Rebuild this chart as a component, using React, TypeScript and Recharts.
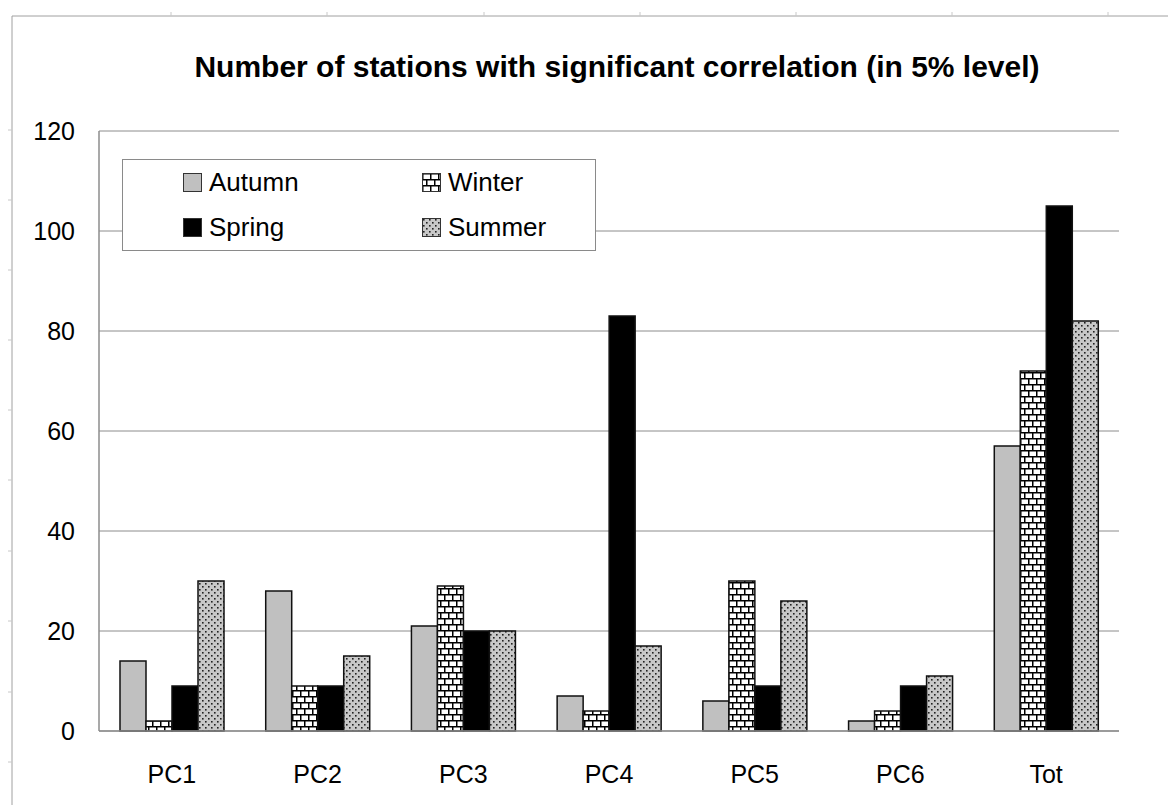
import React from "react";
import {
  BarChart,
  Bar,
  XAxis,
  YAxis,
  CartesianGrid,
  Legend,
} from "recharts";

const categories = ["PC1", "PC2", "PC3", "PC4", "PC5", "PC6", "Tot"];
const autumn = [14, 28, 21, 7, 6, 2, 57];
const winter = [2, 9, 29, 4, 30, 4, 72];
const spring = [9, 9, 20, 83, 9, 9, 105];
const summer = [30, 15, 20, 17, 26, 11, 82];
const yTicks = [0, 20, 40, 60, 80, 100, 120];

const chartData = categories.map((name, i) => ({
  name,
  autumn: autumn[i],
  winter: winter[i],
  spring: spring[i],
  summer: summer[i],
}));

const FONT = '"Liberation Sans", Arial, sans-serif';

const series = [
  { key: "autumn", label: "Autumn", fill: "#c0c0c0" },
  { key: "winter", label: "Winter", fill: "url(#brick)" },
  { key: "spring", label: "Spring", fill: "#000000" },
  { key: "summer", label: "Summer", fill: "url(#dots)" },
];

// legend order in the box: row 1 Autumn / Winter, row 2 Spring / Summer
function LegendBox() {
  const item = (s: (typeof series)[number]) => (
    <div key={s.key} style={{ display: "flex", alignItems: "center", height: 45 }}>
      <svg width={19} height={19} style={{ marginRight: 7 }}>
        <rect x={0.5} y={0.5} width={18} height={18} fill={s.fill} stroke="#333" strokeWidth={1} />
      </svg>
      <span style={{ fontFamily: FONT, fontSize: 26, color: "#000" }}>{s.label}</span>
    </div>
  );
  return (
    <div
      style={{
        width: 474,
        height: 92,
        border: "1px solid #8a8a8a",
        background: "#fff",
        display: "grid",
        gridTemplateColumns: "239px 235px",
        paddingLeft: 60,
        boxSizing: "border-box",
        alignContent: "center",
      }}
    >
      {item(series[0])}
      {item(series[1])}
      {item(series[2])}
      {item(series[3])}
    </div>
  );
}

const topTicks = [171, 327, 484, 640, 796, 952, 1108];
const leftTicks = [130, 200, 270, 340, 410, 480, 551, 621, 692, 762];

export default function App() {
  return (
    <div style={{ position: "relative", width: 1168, height: 805, background: "#fff" }}>
      <style>{"body{margin:0}"}</style>
      <svg
        width={1168}
        height={805}
        style={{ position: "absolute", left: 0, top: 0 }}
      >
        <defs>
          <pattern id="brick" width={16} height={12} patternUnits="userSpaceOnUse">
            <rect width={16} height={12} fill="#fff" />
            <rect x={0} y={0} width={16} height={1.5} fill="#000" />
            <rect x={0} y={6} width={16} height={1.5} fill="#000" />
            <rect x={0} y={0} width={1.5} height={6} fill="#000" />
            <rect x={8} y={0} width={1.5} height={6} fill="#000" />
            <rect x={4} y={6} width={1.5} height={6} fill="#000" />
            <rect x={12} y={6} width={1.5} height={6} fill="#000" />
          </pattern>
          <pattern id="dots" width={6} height={6} patternUnits="userSpaceOnUse">
            <rect width={6} height={6} fill="#c8c8c8" />
            <rect x={1} y={1} width={1.6} height={1.6} fill="#222" />
            <rect x={4} y={4} width={1.6} height={1.6} fill="#222" />
          </pattern>
        </defs>
        <line x1={12} y1={16} x2={1168} y2={16} stroke="#a0a0a0" strokeWidth={1} />
        <line x1={12} y1={16} x2={12} y2={805} stroke="#a0a0a0" strokeWidth={1} />
        {topTicks.map((x) => (
          <line key={x} x1={x} y1={12} x2={x} y2={16} stroke="#c8c8c8" />
        ))}
        {leftTicks.map((y) => (
          <line key={y} x1={8} y1={y} x2={12} y2={y} stroke="#c8c8c8" />
        ))}
        <text
          x={617}
          y={77}
          textAnchor="middle"
          fontFamily={FONT}
          fontWeight="bold"
          fontSize={30}
          fill="#000"
        >
          Number of stations with significant correlation (in 5% level)
        </text>
      </svg>
      <div style={{ position: "absolute", left: 0, top: 0 }}>
        <BarChart
          width={1168}
          height={805}
          data={chartData}
          margin={{ top: 131, right: 49, bottom: 14, left: 0 }}
          barSize={26}
          barGap={0}
        >
          <CartesianGrid vertical={false} stroke="#8c8c8c" strokeWidth={1} />
          <XAxis
            dataKey="name"
            height={60}
            axisLine={{ stroke: "#8c8c8c", strokeWidth: 1.5 }}
            tickLine={false}
            tickSize={0}
            tickMargin={34}
            tick={{ fontFamily: FONT, fontSize: 25, fill: "#000" }}
          />
          <YAxis
            width={99}
            domain={[0, 120]}
            ticks={yTicks}
            interval={0}
            axisLine={{ stroke: "#8c8c8c", strokeWidth: 1.5 }}
            tickLine={false}
            tickSize={0}
            tickMargin={24}
            tick={{ fontFamily: FONT, fontSize: 25, fill: "#000" }}
          />
          <Legend
            layout="vertical"
            align="center"
            verticalAlign="middle"
            wrapperStyle={{ left: 122, top: 159, width: 476, height: 94 }}
            content={() => <LegendBox />}
          />
          {series.map((s) => (
            <Bar
              key={s.key}
              dataKey={s.key}
              name={s.label}
              fill={s.fill}
              stroke="#111"
              strokeWidth={1.5}
              isAnimationActive={false}
            />
          ))}
        </BarChart>
      </div>
    </div>
  );
}
